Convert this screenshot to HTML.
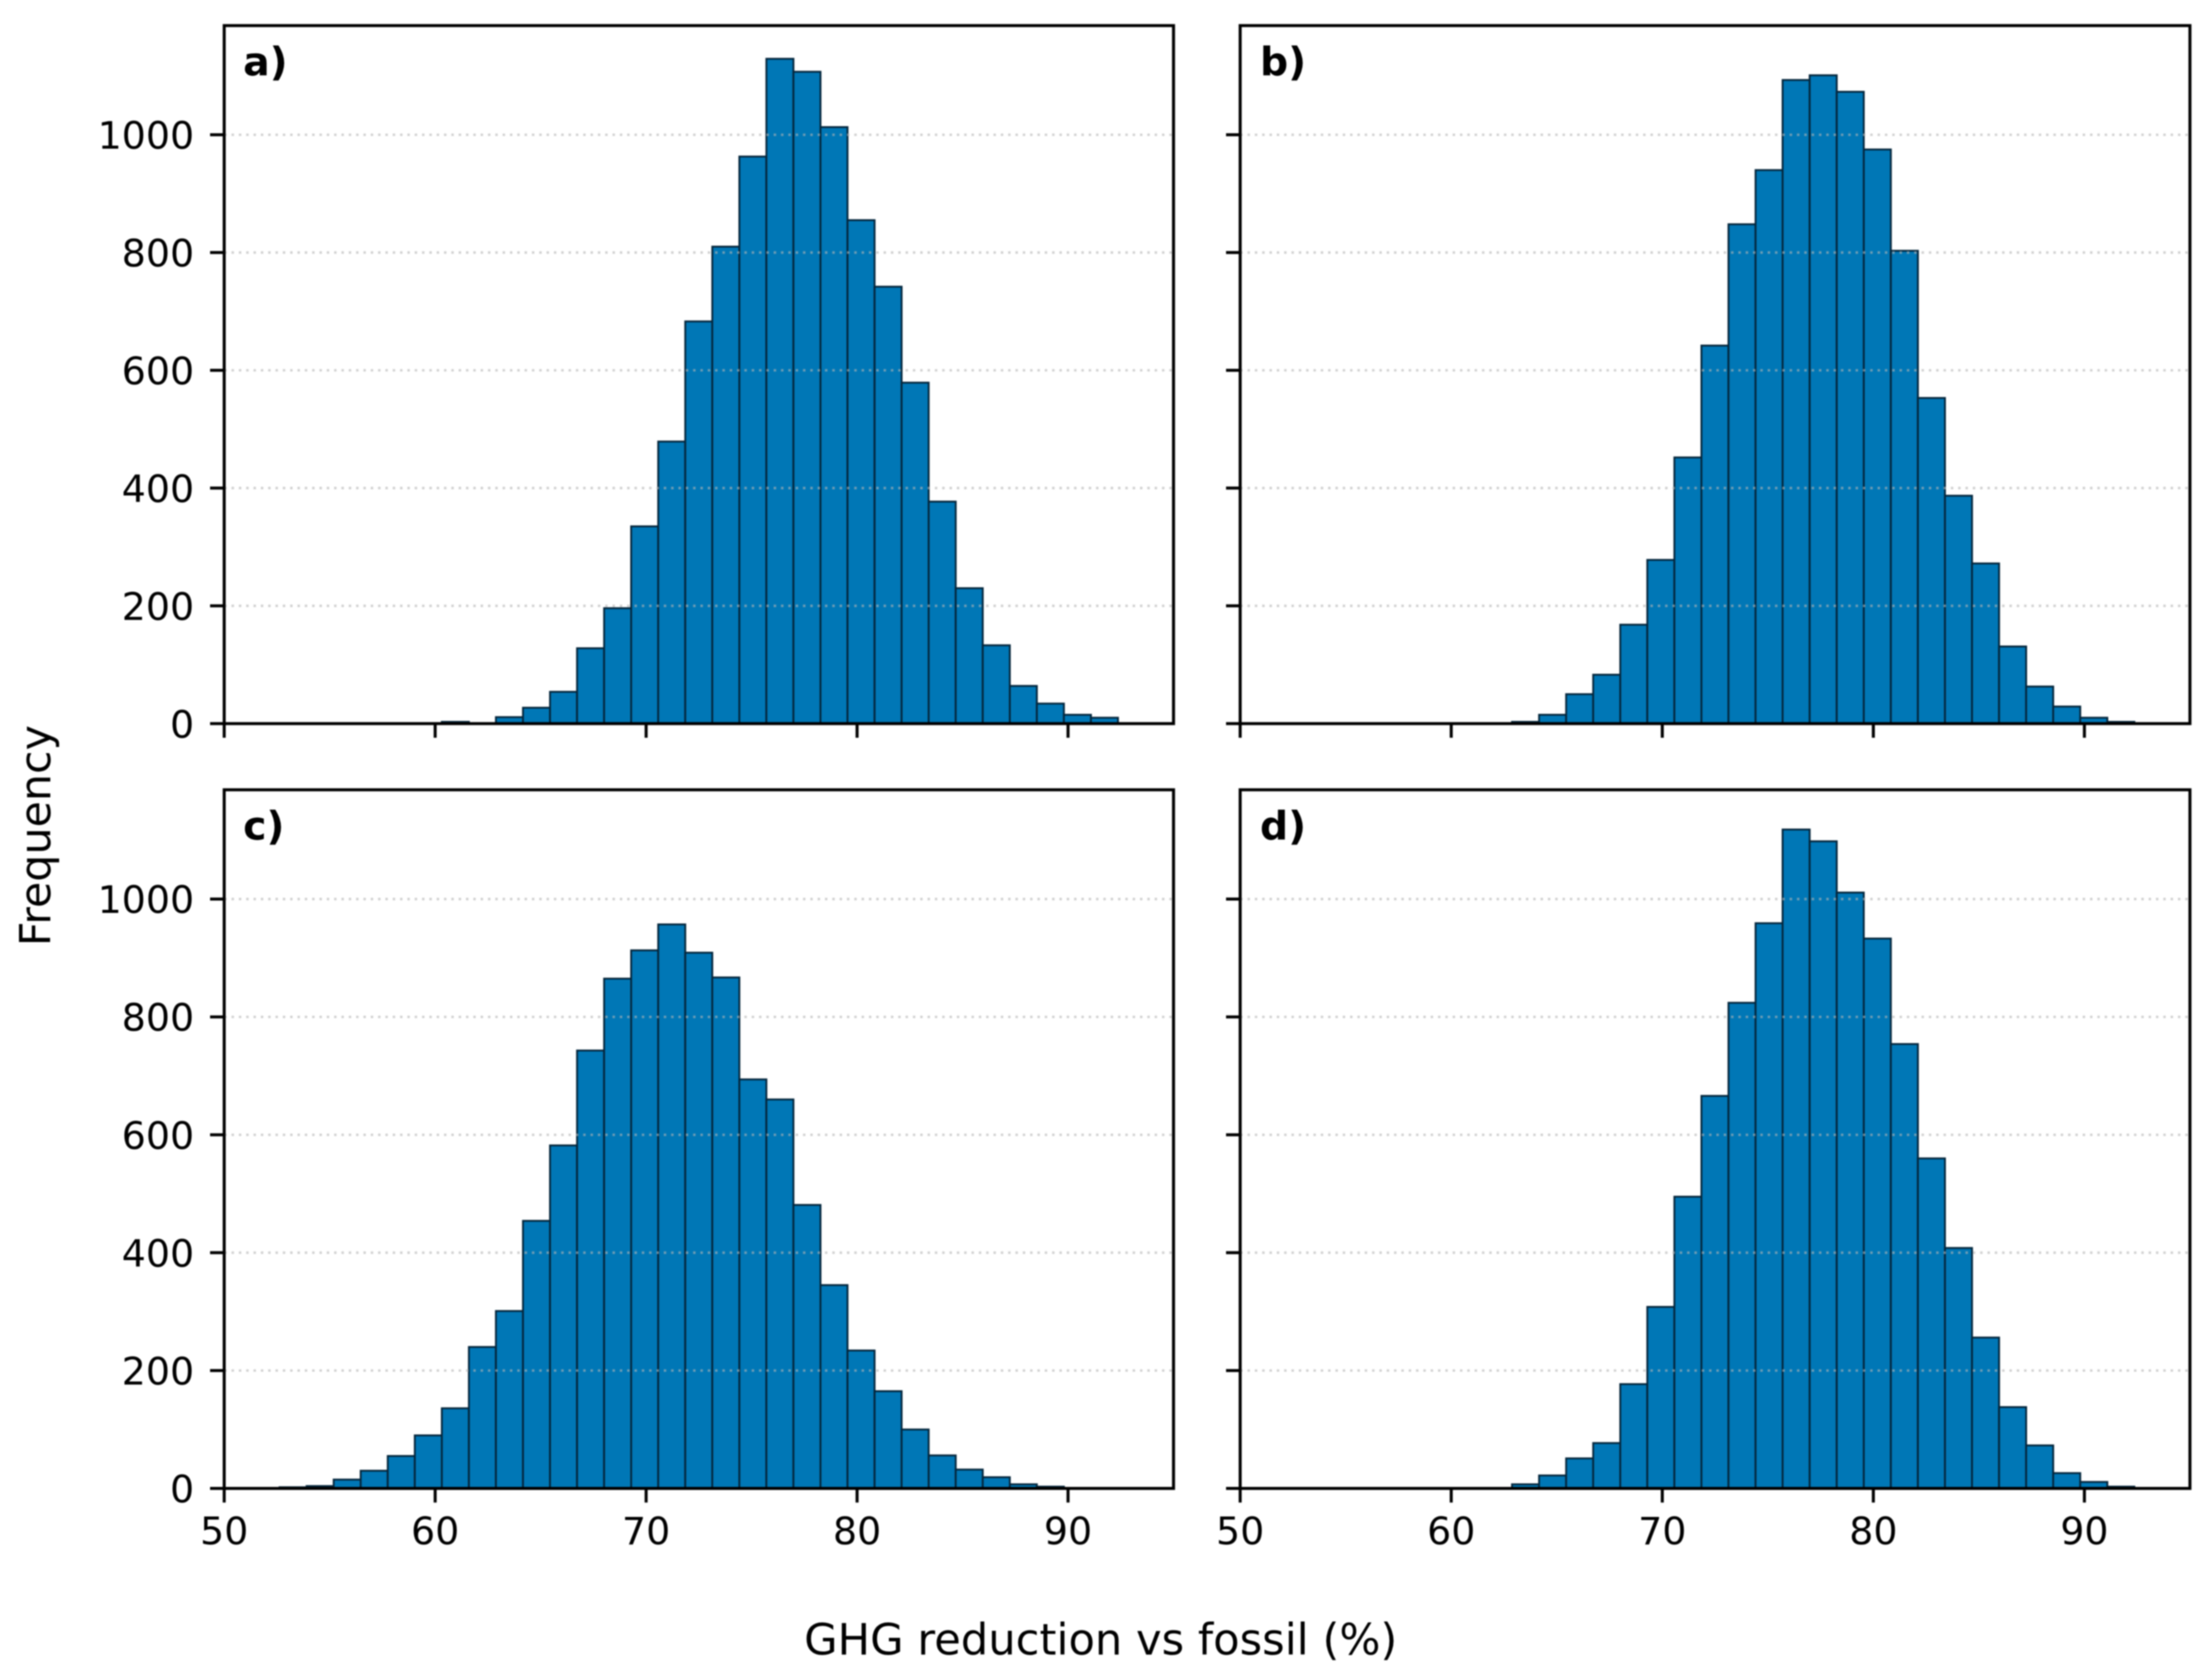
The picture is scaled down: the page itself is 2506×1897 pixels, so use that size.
<!DOCTYPE html>
<html lang="en">
<head>
<meta charset="utf-8">
<title>GHG reduction histograms</title>
<style>
html,body{margin:0;padding:0;background:#fff;}
svg{display:block;filter:blur(0.9px);}
text{font-family:"DejaVu Sans","Liberation Sans",sans-serif;fill:#000;}
</style>
</head>
<body>
<svg id="chart" xmlns="http://www.w3.org/2000/svg" width="2506" height="1897" viewBox="0 0 2506 1897">
  <rect x="0" y="0" width="2506" height="1897" fill="#fff"/>
  <defs id="clips"></defs>
  <g id="panels"></g>
  <text x="1247" y="1875" font-size="49" text-anchor="middle">GHG reduction vs fossil (%)</text>
  <text transform="translate(57 947) rotate(-90)" font-size="48.5" text-anchor="middle">Frequency</text>
  <text x="275.5" y="85.5" font-size="44.5" font-weight="bold">a)</text>
  <text x="1427.5" y="85.5" font-size="44.5" font-weight="bold">b)</text>
  <text x="275.5" y="951.5" font-size="44.5" font-weight="bold">c)</text>
  <text x="1427.5" y="951.5" font-size="44.5" font-weight="bold">d)</text>
</svg>
<script>
const binStart = 50.06;
const binEnd = 100.06;
const binCount = 39;
const xTickValues = [50, 60, 70, 80, 90];
const yTickValues = [0, 200, 400, 600, 800, 1000];
const countsA = [0,0,0,0,0,0,0,0,3,0,11,27,54,128,196,335,479,683,810,963,1129,1107,1013,855,742,579,377,230,133,64,34,15,10,0,0,0,0,0,0];
const countsB = [0,0,0,0,0,0,0,0,0,0,3,15,50,83,168,278,452,642,848,940,1093,1101,1073,975,803,553,387,272,131,63,29,10,3,0,0,0,0,0,0];
const countsC = [0,0,2,4,15,30,55,90,136,240,301,454,582,743,865,913,957,909,867,694,660,481,345,234,165,100,56,32,19,7,3,0,0,0,0,0,0,0,0];
const countsD = [0,0,0,0,0,0,0,0,0,0,7,22,51,77,177,308,495,666,824,959,1118,1098,1011,933,754,560,408,256,138,73,26,11,3,0,0,0,0,0,0];

const NS = 'http://www.w3.org/2000/svg';
const xMin = 50, xMax = 95, yMin = 0, yMax = 1185.4;
const panelsRoot = document.getElementById('panels');
const clipsRoot = document.getElementById('clips');

function make(tag, attrs, parent) {
  const el = document.createElementNS(NS, tag);
  for (const key in attrs) el.setAttribute(key, attrs[key]);
  parent.appendChild(el);
  return el;
}

function drawPanel(id, counts, left, right, top, bottom, showX, showY) {
  const xScale = v => left + (v - xMin) / (xMax - xMin) * (right - left);
  const yScale = v => bottom - (v - yMin) / (yMax - yMin) * (bottom - top);
  const group = make('g', {}, panelsRoot);
  
  

  const clip = make('clipPath', { id: 'clip-' + id }, clipsRoot);
  make('rect', { x: left, y: top, width: right - left, height: bottom - top }, clip);

  const bars = make('g', { 'clip-path': 'url(#clip-' + id + ')' }, group);
  
  
  counts.forEach((count, i) => {
    const w = (binEnd - binStart) / binCount;
    const x0 = xScale(binStart + i * w);
    const x1 = xScale(binStart + (i + 1) * w);
    const y1 = yScale(count);
    const bar = make('rect', {
      x: x0, y: y1, width: x1 - x0, height: yScale(0) - y1,
      fill: '#0077b6', stroke: '#04263c', 'stroke-width': 2.1
    }, bars);
    
    
  });

  yTickValues.forEach(value => {
    const y = yScale(value);
    if (value !== 0) {
      const grid = make('line', {
        x1: left, x2: right, y1: y, y2: y,
        stroke: '#b4b4b4', 'stroke-opacity': 0.62, 'stroke-width': 2.8,
        'stroke-dasharray': '2.8 5.5'
      }, group);
      
      
    }
    const tick = make('line', {
      x1: left - 16, x2: left, y1: y, y2: y, stroke: '#000', 'stroke-width': 3.4
    }, group);
    
    
    if (showY) {
      const label = make('text', {
        x: left - 34, y: y + 15.8, 'font-size': 43, 'text-anchor': 'end'
      }, group);
      label.textContent = String(value);
      
      
    }
  });

  xTickValues.forEach(value => {
    const x = xScale(value);
    const tick = make('line', {
      x1: x, x2: x, y1: bottom, y2: bottom + 16, stroke: '#000', 'stroke-width': 3.4
    }, group);
    
    
    if (showX) {
      const label = make('text', {
        x: x, y: 1750, 'font-size': 43, 'text-anchor': 'middle'
      }, group);
      label.textContent = String(value);
      
      
    }
  });

  const frame = make('rect', {
    x: left, y: top, width: right - left, height: bottom - top,
    fill: 'none', stroke: '#000', 'stroke-width': 3.4
  }, group);
  
  
}

drawPanel('a', countsA, 254, 1329.5, 29, 820, false, true);
drawPanel('b', countsB, 1405, 2481, 29, 820, false, false);
drawPanel('c', countsC, 254, 1329.5, 895, 1686.7, true, true);
drawPanel('d', countsD, 1405, 2481, 895, 1686.7, true, false);
</script>
</body>
</html>
